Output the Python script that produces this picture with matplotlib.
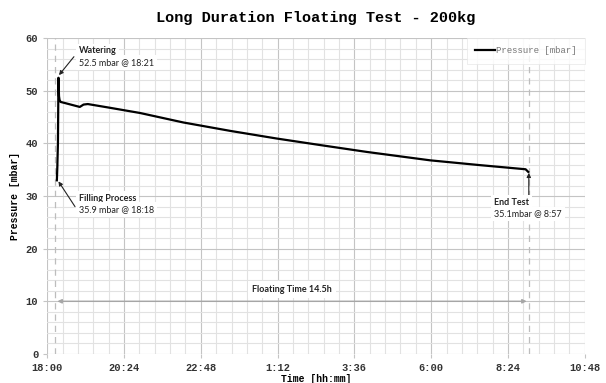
import matplotlib
matplotlib.use("Agg")
import matplotlib.pyplot as plt
from matplotlib.ticker import MultipleLocator, FuncFormatter

# --------------------------------------------------------------
# Data
# --------------------------------------------------------------

times = ["18:18", "18:19", "18:19", "18:20", "18:21", "18:22", "18:23", "18:25",
         "18:29", "19:01", "19:08", "19:16", "19:57", "20:54", "22:15",
         "23:43", "1:10", "2:32", "3:59", "5:58", "7:30", "8:57", "9:02"]
pressure = [33.0, 35.9, 36.2, 40.0, 52.5, 49.0, 48.3, 47.9,
            47.8, 46.95, 47.4, 47.5, 46.8, 45.8, 44.0,
            42.4, 40.95, 39.7, 38.4, 36.8, 35.9, 35.1, 34.6]

start_line = "18:15"
end_line = "9:03"
x_ticks = ["18:00", "20:24", "22:48", "1:12", "3:36", "6:00", "8:24", "10:48"]


def to_min(s):
    h, m = map(int, s.split(":"))
    v = h * 60 + m - 18 * 60
    return v if v >= 0 else v + 24 * 60


def fmt(v, pos):
    v = int(round(v)) + 18 * 60
    h = (v // 60) % 24
    return "%d:%02d" % (h, v % 60)


t = [to_min(s) for s in times]
t0 = to_min(start_line)
t1 = to_min(end_line)

# --------------------------------------------------------------
# Plot
# --------------------------------------------------------------

mono = "Liberation Mono"
note = "Lato"

fig, ax = plt.subplots(figsize=(6.06, 3.83), dpi=100)
fig.subplots_adjust(left=0.078, right=0.965, top=0.90, bottom=0.076)

ax.plot(t, pressure, color="black", lw=1.6, label="Pressure [mbar]", zorder=4)

ax.set_xlim(0, to_min(x_ticks[-1]))
ax.set_ylim(0, 60)
ax.set_xticks([to_min(s) for s in x_ticks])
ax.xaxis.set_major_formatter(FuncFormatter(fmt))
ax.xaxis.set_minor_locator(MultipleLocator(144 / 5))
ax.yaxis.set_major_locator(MultipleLocator(10))
ax.yaxis.set_minor_locator(MultipleLocator(2))

ax.grid(which="major", color="#c4c4c4", lw=0.8)
ax.grid(which="minor", color="#e2e2e2", lw=0.8)
ax.set_axisbelow(True)
for sp in ax.spines.values():
    sp.set_visible(False)
ax.tick_params(which="both", length=3, color="#c4c4c4", labelsize=7.5, labelcolor="#333333")
ax.tick_params(which="minor", length=0)
for lab in ax.get_xticklabels() + ax.get_yticklabels():
    lab.set_fontfamily(mono)
    lab.set_fontweight("bold")

ax.set_title("Long Duration Floating Test - 200kg", fontfamily=mono, fontweight="bold",
             fontsize=11, pad=12)
ax.set_xlabel("Time [hh:mm]", fontfamily=mono, fontweight="bold", fontsize=7, labelpad=1)
ax.set_ylabel("Pressure [mbar]", fontfamily=mono, fontweight="bold", fontsize=7, labelpad=4)

# dashed start / end markers
for x in (t0, t1):
    ax.axvline(x, color="#bdbdbd", lw=0.9, ls=(0, (5, 4)), zorder=2)

# floating time arrow
ax.annotate("", xy=(t0 + 4, 10), xytext=(t1 - 4, 10),
            arrowprops=dict(arrowstyle="<|-|>", color="#a6a6a6", lw=1.0,
                            mutation_scale=6, shrinkA=0, shrinkB=0), zorder=3)
ax.text((t0 + t1) / 2, 12.2, "Floating Time 14.5h", fontfamily=note, fontweight="bold",
        fontsize=6.5, ha="center", va="center", color="#222222",
        bbox=dict(facecolor="white", edgecolor="none", pad=3), zorder=3)

box = dict(facecolor="white", edgecolor="none", pad=2)

# watering
ax.annotate("", xy=(to_min("18:22"), 53.0), xytext=(to_min("18:50"), 56.5),
            arrowprops=dict(arrowstyle="-|>", color="#222222", lw=0.8, mutation_scale=6,
                            shrinkA=0, shrinkB=0), zorder=5)
ax.text(to_min("18:59"), 57.6, "Watering", fontfamily=note, fontweight="bold", fontsize=6.5,
        va="center", color="#222222", bbox=box, zorder=5)
ax.text(to_min("18:59"), 55.4, "52.5 mbar @ 18:21", fontfamily=note, fontsize=6.5,
        va="center", color="#222222", bbox=box, zorder=5)

# filling
ax.annotate("", xy=(to_min("18:21"), 32.8), xytext=(to_min("18:52"), 28.0),
            arrowprops=dict(arrowstyle="-|>", color="#222222", lw=0.8, mutation_scale=6,
                            shrinkA=0, shrinkB=0), zorder=5)
ax.text(to_min("18:59"), 29.6, "Filling Process", fontfamily=note, fontweight="bold",
        fontsize=6.5, va="center", color="#222222", bbox=box, zorder=5)
ax.text(to_min("18:59"), 27.4, "35.9 mbar @ 18:18", fontfamily=note, fontsize=6.5,
        va="center", color="#222222", bbox=box, zorder=5)

# end test
ax.annotate("", xy=(t1, 34.4), xytext=(t1, 30.2),
            arrowprops=dict(arrowstyle="-|>", color="#222222", lw=0.8, mutation_scale=6,
                            shrinkA=0, shrinkB=0), zorder=5)
ax.text(to_min("7:58"), 28.8, "End Test", fontfamily=note, fontweight="bold", fontsize=6.5,
        va="center", color="#222222", bbox=box, zorder=5)
ax.text(to_min("7:58"), 26.6, "35.1mbar @ 8:57", fontfamily=note, fontsize=6.5,
        va="center", color="#222222", bbox=box, zorder=5)

leg = ax.legend(loc="upper right", prop={"family": mono, "size": 6.5}, frameon=True,
                fancybox=False, edgecolor="#e6e6e6", handlelength=2.2, handletextpad=0.1,
                borderaxespad=0.0, borderpad=0.9)
leg.get_frame().set_linewidth(0.6)
for txt in leg.get_texts():
    txt.set_color("#777777")

fig.savefig("out.png", dpi=100, facecolor="white")
